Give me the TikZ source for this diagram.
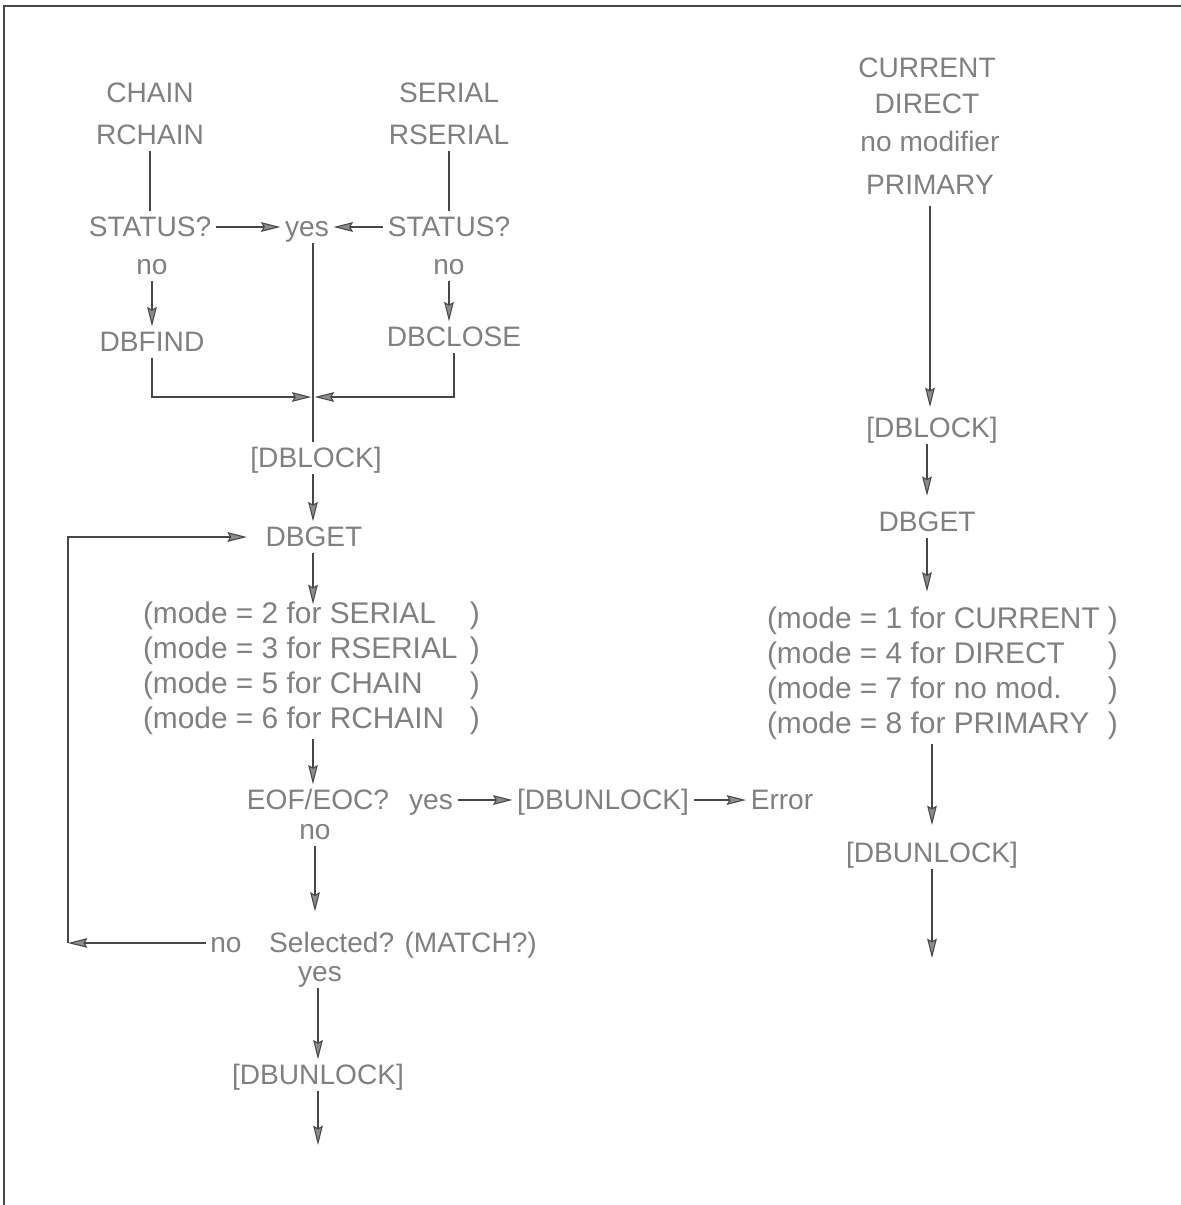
\documentclass[tikz,border=0pt]{standalone}
\usepackage{fontspec}
\setmainfont{Liberation Sans}
\usetikzlibrary{arrows.meta}
\begin{document}
\begin{tikzpicture}[x=0.02cm,y=-0.02cm,
  base/.style={text=black!50, inner sep=2.5pt},
  lbl/.style={base, font=\fontsize{16}{19.9}\selectfont, text height=11.5pt, text depth=1pt},
  modes/.style={base, font=\fontsize{17}{19.85}\selectfont, align=left},
  ln/.style={draw=black!72, line width=0.6pt},
  arr/.style={ln, -{Stealth[length=11pt,width=5.5pt,inset=1.5pt,fill=black!45]}},
]
\useasboundingbox (0,0) rectangle (1181,1205);
\draw[ln] (4,1205) -- (4,6) -- (1181,6);

% left column
\node[lbl] (chain)   at (150,93)  {CHAIN};
\node[lbl] (rchain)  at (150,135) {RCHAIN};
\node[lbl] (serial)  at (449,93)  {SERIAL};
\node[lbl] (rserial) at (449,135) {RSERIAL};
\node[lbl] (stL)     at (150,227) {STATUS?};
\node[lbl] (yes)     at (307,227) {yes};
\node[lbl] (stR)     at (449,227) {STATUS?};
\node[lbl] (noL)     at (152,265) {no};
\node[lbl] (noR)     at (449,265) {no};
\node[lbl] (dbfind)  at (152,342) {DBFIND};
\node[lbl] (dbclose) at (454,337) {DBCLOSE};
\coordinate (m) at (313,397);
\node[lbl] (dblockL) at (316,458) {[DBLOCK]};
\node[lbl] (dbgetL)  at (314,537) {DBGET};
\node[modes] (modesL) at (311.5,668) {%
  \makebox[6.74cm][l]{(mode = 2 for SERIAL\hfill)}\\
  \makebox[6.74cm][l]{(mode = 3 for RSERIAL\hfill)}\\
  \makebox[6.74cm][l]{(mode = 5 for CHAIN\hfill)}\\
  \makebox[6.74cm][l]{(mode = 6 for RCHAIN\hfill)}};
\node[lbl] (eof)     at (318,800) {EOF/EOC?};
\node[lbl] (eofyes)  at (431,800) {yes};
\node[lbl] (unlockM) at (603,800) {[DBUNLOCK]};
\node[lbl] (error)   at (782,800) {Error};
\node[lbl] (eofno)   at (315,830) {no};
\node[lbl] (selno)   at (226,943) {no};
\node[lbl] (sel)     at (403,943) {Selected? (MATCH?)};
\node[lbl] (selyes)  at (320,972) {yes};
\node[lbl] (unlockL) at (318,1075) {[DBUNLOCK]};
\coordinate (c1) at (68,943);
\coordinate (endL) at (318,1145);

% right column
\node[lbl] (current) at (927,68)  {CURRENT};
\node[lbl] (direct)  at (927,104) {DIRECT};
\node[lbl] (nomod)   at (930,142) {no modifier};
\node[lbl] (primary) at (930,185) {PRIMARY};
\node[lbl] (dblockR) at (932,428) {[DBLOCK]};
\node[lbl] (dbgetR)  at (927,522) {DBGET};
\node[modes] (modesR) at (942.5,673) {%
  \makebox[7.02cm][l]{(mode = 1 for CURRENT\hfill)}\\
  \makebox[7.02cm][l]{(mode = 4 for DIRECT\hfill)}\\
  \makebox[7.02cm][l]{(mode = 7 for no mod.\hfill)}\\
  \makebox[7.02cm][l]{(mode = 8 for PRIMARY\hfill)}};
\node[lbl] (unlockR) at (932,853) {[DBUNLOCK]};
\coordinate (endR) at (932,958);

% connectors left
\draw[ln] (rchain.south) -- (stL.north);
\draw[ln] (rserial.south) -- (stR.north);
\draw[arr] (stL.east) -- (yes.west);
\draw[arr] (stR.west) -- (yes.east);
\draw[ln] (yes.south -| m) -- (dblockL.north -| m);
\draw[arr] (noL.south) -- (dbfind.north);
\draw[arr] (noR.south) -- (noR.south |- dbclose.north);
\draw[arr, shorten >=1pt] (dbfind.south) |- (m);
\draw[arr, shorten >=1pt] (dbclose.south) |- (m);
\draw[arr] (dblockL.south -| m) -- (dbgetL.north -| m);
\draw[arr, shorten >=-4pt] (dbgetL.south -| m) -- (modesL.north -| m);
\draw[arr] (modesL.south -| m) -- (eof.north -| m);
\draw[arr] (eofyes.east) -- (unlockM.west);
\draw[arr] (unlockM.east) -- (error.west);
\draw[arr, shorten >=9pt] (eofno.south) -- (eofno.south |- sel.north);
\draw[arr] (selno.west) -- (c1);
\draw[arr, shorten >=8pt] (c1) |- (dbgetL.west);
\draw[arr] (selyes.south -| unlockL.north) -- (unlockL.north);
\draw[arr] (unlockL.south) -- (endL);

% connectors right
\draw[arr, shorten <=3pt, shorten >=3pt] (primary.south) -- (primary.south |- dblockR.north);
\draw[arr, shorten >=6pt] (dblockR.south -| dbgetR) -- (dbgetR.north);
\draw[arr, shorten >=6pt] (dbgetR.south) -- (dbgetR.south |- modesR.north);
\draw[arr, shorten >=7pt] (modesR.south -| unlockR) -- (unlockR.north);
\draw[arr] (unlockR.south) -- (endR);
\end{tikzpicture}
\end{document}
